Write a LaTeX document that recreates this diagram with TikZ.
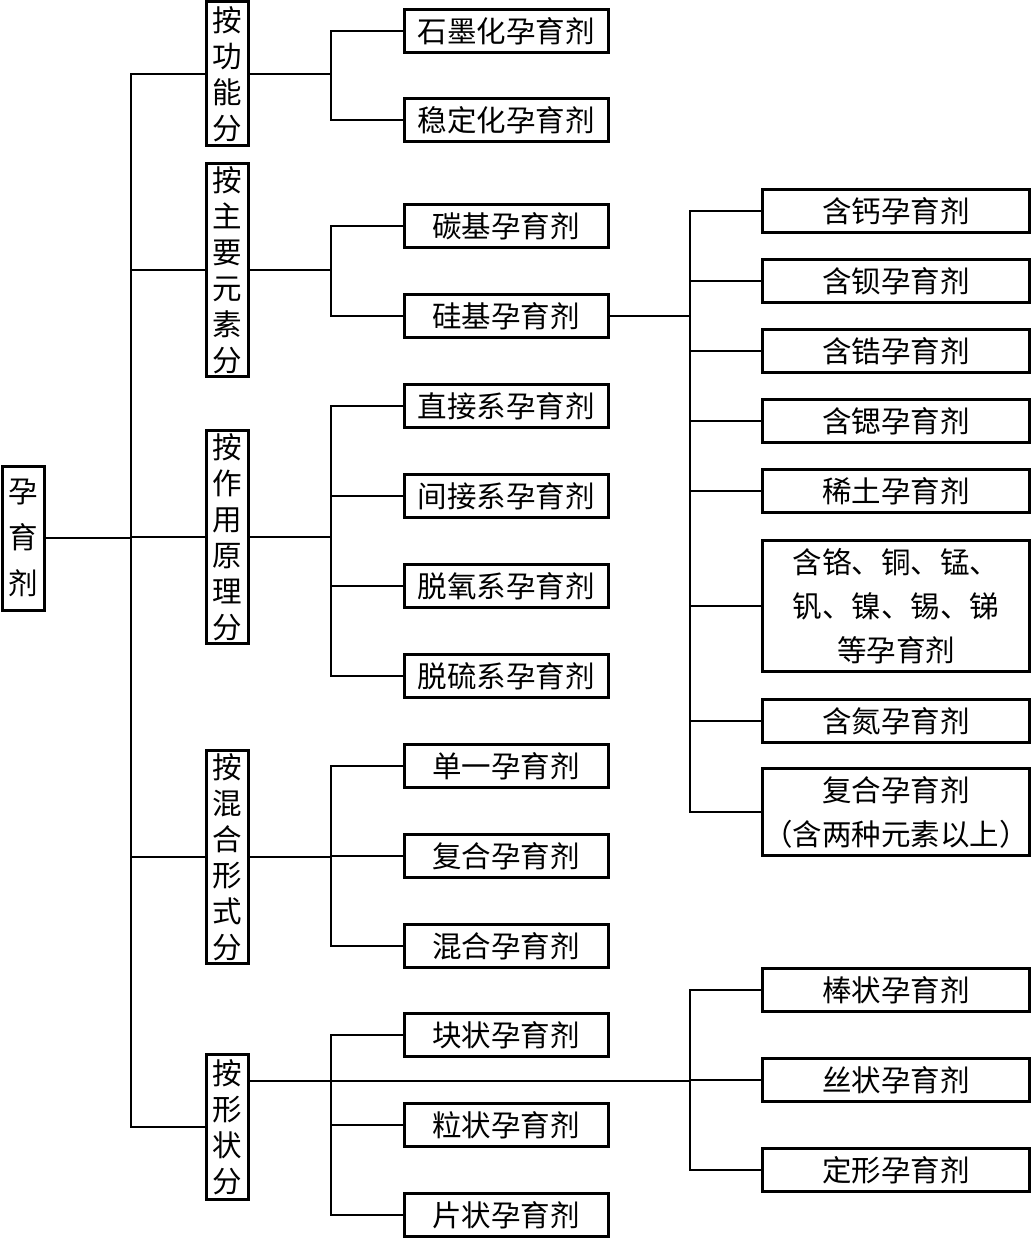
\documentclass[tikz,border=0pt]{standalone}
\usepackage{fontspec}
\setmainfont{Noto Sans CJK SC}
\usepackage{tikz}
\tikzset{
  basebox/.style={rectangle,draw=black,line width=3pt,inner sep=0pt,
                  align=center,font=\fontsize{29.5}{36}\selectfont},
  rootnode/.style={basebox,minimum width=42pt,minimum height=144pt,
                   font=\fontsize{29.5}{46}\selectfont},
  catnode/.style={basebox,minimum width=42pt},
  midnode/.style={basebox,minimum width=204pt,minimum height=43pt},
  rightnode/.style={basebox,minimum width=267pt,minimum height=43pt,
                    font=\fontsize{29.5}{44}\selectfont},
  link/.style={line width=1.8pt,color=black}
}
\begin{document}
\begin{tikzpicture}[x=1pt,y=-1pt]
  \useasboundingbox (0,0) rectangle (1032,1238);

  \node[rootnode] (root) at (23,538) {孕\\育\\剂};

  \node[catnode,minimum height=144pt] (fun) at (227,74)   {按\\功\\能\\分};
  \node[catnode,minimum height=213pt] (ele) at (227,270)  {按\\主\\要\\元\\素\\分};
  \node[catnode,minimum height=213pt] (act) at (227,537)  {按\\作\\用\\原\\理\\分};
  \node[catnode,minimum height=213pt] (mix) at (227,857)  {按\\混\\合\\形\\式\\分};
  \node[catnode,minimum height=145pt] (shp) at (227,1127) {按\\形\\状\\分};

  \node[midnode] (gra)  at (506,31)   {石墨化孕育剂};
  \node[midnode] (sta)  at (506,120)  {稳定化孕育剂};
  \node[midnode] (car)  at (506,226)  {碳基孕育剂};
  \node[midnode] (sil)  at (506,316)  {硅基孕育剂};
  \node[midnode] (dir)  at (506,406)  {直接系孕育剂};
  \node[midnode] (ind)  at (506,496)  {间接系孕育剂};
  \node[midnode] (deo)  at (506,586)  {脱氧系孕育剂};
  \node[midnode] (des)  at (506,676)  {脱硫系孕育剂};
  \node[midnode] (sgl)  at (506,766)  {单一孕育剂};
  \node[midnode] (cpd)  at (506,856)  {复合孕育剂};
  \node[midnode] (bld)  at (506,946)  {混合孕育剂};
  \node[midnode] (lump) at (506,1035) {块状孕育剂};
  \node[midnode] (gran) at (506,1125) {粒状孕育剂};
  \node[midnode] (flak) at (506,1215) {片状孕育剂};

  \node[rightnode] (ca)   at (896,211) {含钙孕育剂};
  \node[rightnode] (ba)   at (896,281) {含钡孕育剂};
  \node[rightnode] (zr)   at (896,351) {含锆孕育剂};
  \node[rightnode] (sr)   at (896,421) {含锶孕育剂};
  \node[rightnode] (re)   at (896,491) {稀土孕育剂};
  \node[rightnode,minimum height=131pt] (multi) at (896,606)
      {含铬、铜、锰、\\钒、镍、锡、锑\\等孕育剂};
  \node[rightnode] (nit)  at (896,721) {含氮孕育剂};
  \node[rightnode,minimum height=87pt] (comp) at (896,812)
      {复合孕育剂\\（含两种元素以上）};
  \node[rightnode] (rod)  at (896,990)  {棒状孕育剂};
  \node[rightnode] (wire) at (896,1080) {丝状孕育剂};
  \node[rightnode] (form) at (896,1170) {定形孕育剂};

  \coordinate (trunk) at (131,538);
  \coordinate (ffun)  at (331,74);
  \coordinate (fele)  at (331,270);
  \coordinate (fact)  at (331,537);
  \coordinate (fmix)  at (331,857);
  \coordinate (fshp)  at (331,1081);
  \coordinate (fsil)  at (690,316);
  \coordinate (fform) at (690,1081);

  \draw[link] (root) -- (trunk);
  \foreach \to in {fun,ele,act,mix,shp}
    \draw[link] (trunk) |- (\to.west);

  \draw[link] (fun) -- (ffun);
  \foreach \to in {gra,sta}
    \draw[link] (ffun) |- (\to.west);
  \draw[link] (ele) -- (fele);
  \foreach \to in {car,sil}
    \draw[link] (fele) |- (\to.west);
  \draw[link] (act) -- (fact);
  \foreach \to in {dir,ind,deo,des}
    \draw[link] (fact) |- (\to.west);
  \draw[link] (mix) -- (fmix);
  \foreach \to in {sgl,cpd,bld}
    \draw[link] (fmix) |- (\to.west);
  \draw[link] (shp.east |- fshp) -- (fshp) -- (fform);
  \foreach \to in {lump,gran,flak}
    \draw[link] (fshp) |- (\to.west);

  \draw[link] (sil) -- (fsil);
  \foreach \to in {ca,ba,zr,sr,re,multi,nit,comp}
    \draw[link] (fsil) |- (\to.west);
  \foreach \to in {rod,wire,form}
    \draw[link] (fform) |- (\to.west);
\end{tikzpicture}
\end{document}
